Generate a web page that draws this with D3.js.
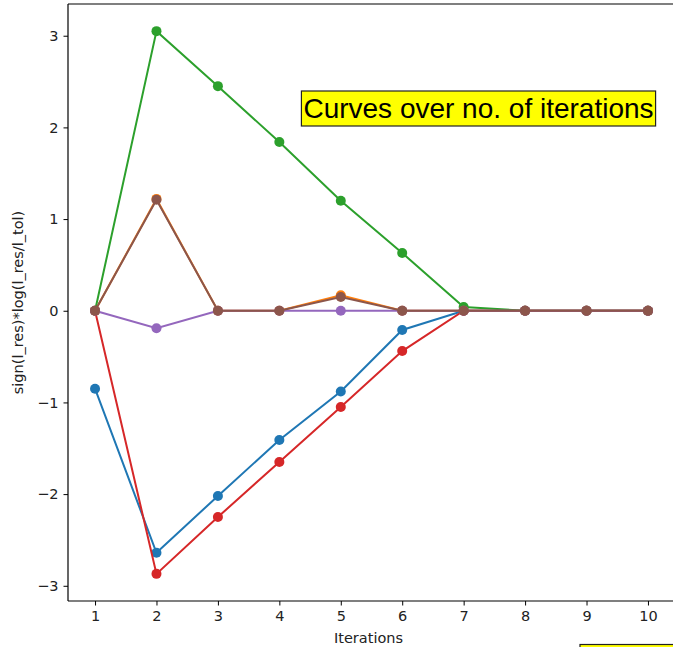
<!DOCTYPE html>
<html>
<head>
<meta charset="utf-8">
<script src="https://cdn.jsdelivr.net/npm/d3@7"></script>
<style>
  body { margin: 0; background: #fff; }
  svg { display: block; }
</style>
</head>
<body>
<div id="chart"></div>
<script>
// iterations on the x axis
const iterations = [1, 2, 3, 4, 5, 6, 7, 8, 9, 10];

// one array per curve
const blueVals   = [-0.85, -2.64, -2.02, -1.41, -0.88, -0.21, 0, 0, 0, 0];
const orangeVals = [0, 1.22, 0, 0, 0.17, 0, 0, 0, 0, 0];
const greenVals  = [0, 3.05, 2.45, 1.84, 1.20, 0.63, 0.04, 0, 0, 0];
const redVals    = [0, -2.87, -2.25, -1.65, -1.05, -0.44, 0, 0, 0, 0];
const purpleVals = [0, -0.19, 0, 0, 0, 0, 0, 0, 0, 0];
const brownVals  = [0, 1.21, 0, 0, 0.15, 0, 0, 0, 0, 0];

const yTicks = [-3, -2, -1, 0, 1, 2, 3];

const series = [
  {vals: blueVals,   color: "#1f77b4"},
  {vals: orangeVals, color: "#ff7f0e"},
  {vals: greenVals,  color: "#2ca02c"},
  {vals: redVals,    color: "#d62728"},
  {vals: purpleVals, color: "#9467bd"},
  {vals: brownVals,  color: "#8c564b"}
];

const width = 673, height = 647;
const mLeft = 68, mRight = 675, mTop = 4, mBottom = 601;

const x = d3.scaleLinear().domain([0.56, 10.44]).range([mLeft, mRight]);
const y = d3.scaleLinear().domain([-3.166, 3.346]).range([mBottom, mTop]);

const svg = d3.select("#chart").append("svg")
    .attr("width", width)
    .attr("height", height)
    .attr("font-family", "DejaVu Sans, sans-serif");

const tickFont = 14.5;

// x axis
const xAxis = svg.append("g")
    .attr("transform", `translate(0,${mBottom})`)
    .call(d3.axisBottom(x).tickValues(iterations).tickSize(4.5).tickPadding(5).tickSizeOuter(0));
xAxis.select(".domain").remove();
xAxis.selectAll("line").attr("stroke", "#000").attr("stroke-width", 1);
xAxis.selectAll("text").attr("font-size", tickFont).attr("fill", "#222").attr("font-family", "DejaVu Sans, sans-serif");

// y axis
const yAxis = svg.append("g")
    .attr("transform", `translate(${mLeft},0)`)
    .call(d3.axisLeft(y).tickValues(yTicks).tickSize(4.5).tickPadding(5)
      .tickFormat(d => d < 0 ? "\u2212" + Math.abs(d) : d));
yAxis.select(".domain").remove();
yAxis.selectAll("line").attr("stroke", "#000").attr("stroke-width", 1);
yAxis.selectAll("text").attr("font-size", tickFont).attr("fill", "#222").attr("font-family", "DejaVu Sans, sans-serif");

// spines
svg.append("line").attr("x1", mLeft).attr("x2", mLeft).attr("y1", mTop).attr("y2", mBottom)
    .attr("stroke", "#000").attr("stroke-width", 1.2);
svg.append("line").attr("x1", mLeft).attr("x2", mRight).attr("y1", mBottom).attr("y2", mBottom)
    .attr("stroke", "#000").attr("stroke-width", 1.2);
svg.append("line").attr("x1", mLeft).attr("x2", mRight).attr("y1", mTop).attr("y2", mTop)
    .attr("stroke", "#000").attr("stroke-width", 1.2);

// lines and markers
const line = d3.line().x((d, i) => x(iterations[i])).y(d => y(d));
series.forEach(s => {
  const g = svg.append("g");
  g.append("path")
      .attr("d", line(s.vals))
      .attr("fill", "none")
      .attr("stroke", s.color)
      .attr("stroke-width", 2);
  g.selectAll("circle")
    .data(s.vals)
    .join("circle")
      .attr("cx", (d, i) => x(iterations[i]))
      .attr("cy", d => y(d))
      .attr("r", 5)
      .attr("fill", s.color);
});

// axis labels
svg.append("text")
    .attr("x", (mLeft + mRight) / 2 - 3)
    .attr("y", 643)
    .attr("text-anchor", "middle")
    .attr("font-size", 14.5)
    .attr("fill", "#222")
    .text("Iterations");

svg.append("text")
    .attr("transform", `translate(23,${(mTop + mBottom) / 2}) rotate(-90)`)
    .attr("text-anchor", "middle")
    .attr("font-size", 14.5)
    .attr("fill", "#222")
    .text("sign(l_res)*log(l_res/l_tol)");

// title box
const title = svg.append("g");
const tt = title.append("text")
    .attr("x", 478.5)
    .attr("y", 118)
    .attr("text-anchor", "middle")
    .attr("font-family", "Liberation Sans, Arial, sans-serif")
    .attr("font-size", 28)
    .attr("fill", "#000")
    .text("Curves over no. of iterations");
const bb = tt.node().getBBox();
title.insert("rect", "text")
    .attr("x", bb.x - 2)
    .attr("y", 91)
    .attr("width", bb.width + 4)
    .attr("height", 35)
    .attr("fill", "#ffff00")
    .attr("stroke", "#222")
    .attr("stroke-width", 1.2);

// second box cut off at bottom edge
svg.append("rect")
    .attr("x", 580)
    .attr("y", 644.5)
    .attr("width", 110)
    .attr("height", 30)
    .attr("fill", "#ffff00")
    .attr("stroke", "#222")
    .attr("stroke-width", 1.2);
</script>
</body>
</html>
